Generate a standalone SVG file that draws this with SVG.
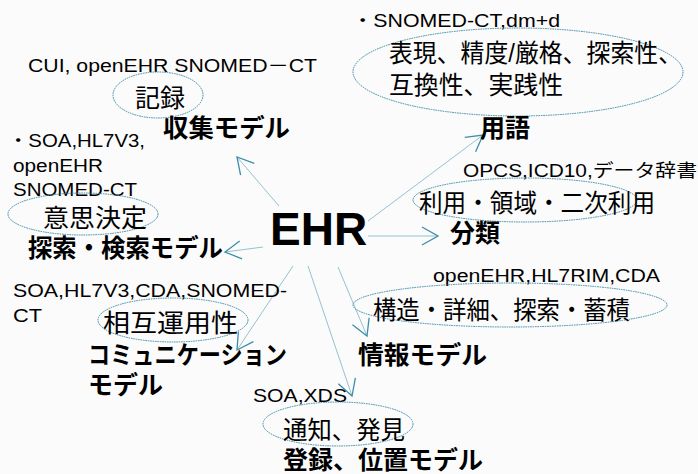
<svg xmlns="http://www.w3.org/2000/svg" width="698" height="474" viewBox="0 0 698 474">
<defs>
<style>
.t{font-family:"Liberation Sans","Noto Sans CJK JP",sans-serif;fill:#000}
.s{font-size:18px}
.m{font-size:25px}
.b{font-size:25px;font-weight:bold}
.e{fill:none;stroke:#3d8ea8;stroke-width:1;stroke-dasharray:1.6 0.8}
.c{stroke:#86bccc;stroke-width:0.9;fill:none;marker-end:url(#ah)}
</style>
<marker id="ah" markerUnits="userSpaceOnUse" markerWidth="40" markerHeight="40" viewBox="-20 -20 40 40" refX="0" refY="0" orient="auto">
<path d="M-16,-9 L0,0 L-16,9" fill="none" stroke="#3d8ea8" stroke-width="1.3"/>
</marker>
</defs>
<rect width="698" height="474" fill="#fbfbfb"/>
<g id="connectors">
<line class="c" x1="279" y1="206" x2="237" y2="157"/>
<line class="c" x1="368" y1="221" x2="483" y2="135"/>
<line class="c" x1="368" y1="236" x2="438" y2="236"/>
<line class="c" x1="263" y1="247" x2="225" y2="252"/>
<line class="c" x1="293" y1="266" x2="237" y2="350"/>
<line class="c" x1="308" y1="266" x2="352" y2="396"/>
<line class="c" x1="338" y1="267" x2="367" y2="336"/>
</g>
<g id="ehr">
<text class="t" x="270" y="245" font-size="46" font-weight="bold">EHR</text>
</g>
<g id="collect">
<text class="t s" x="28" y="72" textLength="289" lengthAdjust="spacingAndGlyphs">CUI, openEHR SNOMED－CT</text>
<ellipse class="e" cx="158" cy="95" rx="45" ry="23"/>
<text class="t m" x="135" y="107" textLength="50" lengthAdjust="spacingAndGlyphs">記録</text>
<text class="t b" x="163" y="137" textLength="127" lengthAdjust="spacingAndGlyphs">収集モデル</text>
</g>
<g id="term">
<text class="t s" x="352" y="27" textLength="208" lengthAdjust="spacingAndGlyphs">・SNOMED-CT,dm+d</text>
<ellipse class="e" cx="518" cy="72" rx="165" ry="44"/>
<text class="t m" x="389" y="62" textLength="293" lengthAdjust="spacingAndGlyphs">表現、精度/厳格、探索性、</text>
<text class="t m" x="389" y="94" textLength="174" lengthAdjust="spacingAndGlyphs">互換性、実践性</text>
<text class="t b" x="480" y="137" textLength="50" lengthAdjust="spacingAndGlyphs">用語</text>
</g>
<g id="search">
<text class="t s" x="8" y="147" textLength="137" lengthAdjust="spacingAndGlyphs">・SOA,HL7V3,</text>
<text class="t s" x="13" y="172" textLength="90" lengthAdjust="spacingAndGlyphs">openEHR</text>
<text class="t s" x="13" y="196" textLength="124" lengthAdjust="spacingAndGlyphs">SNOMED-CT</text>
<ellipse class="e" cx="83" cy="214" rx="75" ry="21"/>
<text class="t m" x="43" y="227" textLength="104" lengthAdjust="spacingAndGlyphs">意思決定</text>
<text class="t b" x="28" y="257" textLength="195" lengthAdjust="spacingAndGlyphs">探索・検索モデル</text>
</g>
<g id="classify">
<text class="t s" x="463" y="177" textLength="234" lengthAdjust="spacingAndGlyphs">OPCS,ICD10,データ辞書</text>
<ellipse class="e" cx="525" cy="200" rx="112" ry="22"/>
<text class="t m" x="419" y="212" textLength="236" lengthAdjust="spacingAndGlyphs">利用・領域・二次利用</text>
<text class="t b" x="450" y="242" textLength="50" lengthAdjust="spacingAndGlyphs">分類</text>
</g>
<g id="info">
<text class="t s" x="433" y="282" textLength="227" lengthAdjust="spacingAndGlyphs">openEHR,HL7RIM,CDA</text>
<ellipse class="e" cx="510" cy="305" rx="157" ry="22"/>
<text class="t m" x="373" y="319" textLength="257" lengthAdjust="spacingAndGlyphs">構造・詳細、探索・蓄積</text>
<text class="t b" x="358" y="364" textLength="129" lengthAdjust="spacingAndGlyphs">情報モデル</text>
</g>
<g id="comm">
<text class="t s" x="13" y="297" textLength="274" lengthAdjust="spacingAndGlyphs">SOA,HL7V3,CDA,SNOMED-</text>
<text class="t s" x="13" y="322" textLength="29" lengthAdjust="spacingAndGlyphs">CT</text>
<ellipse class="e" cx="173" cy="320" rx="75" ry="22"/>
<text class="t m" x="103" y="332" textLength="135" lengthAdjust="spacingAndGlyphs">相互運用性</text>
<text class="t b" x="88" y="364" textLength="199" lengthAdjust="spacingAndGlyphs">コミュニケーション</text>
<text class="t b" x="88" y="394" textLength="75" lengthAdjust="spacingAndGlyphs">モデル</text>
</g>
<g id="registry">
<text class="t s" x="253" y="402" textLength="94" lengthAdjust="spacingAndGlyphs">SOA,XDS</text>
<ellipse class="e" cx="338" cy="424" rx="75" ry="22"/>
<text class="t m" x="283" y="439" textLength="122" lengthAdjust="spacingAndGlyphs">通知、発見</text>
<text class="t b" x="283" y="469" textLength="200" lengthAdjust="spacingAndGlyphs">登録、位置モデル</text>
</g>
</svg>
